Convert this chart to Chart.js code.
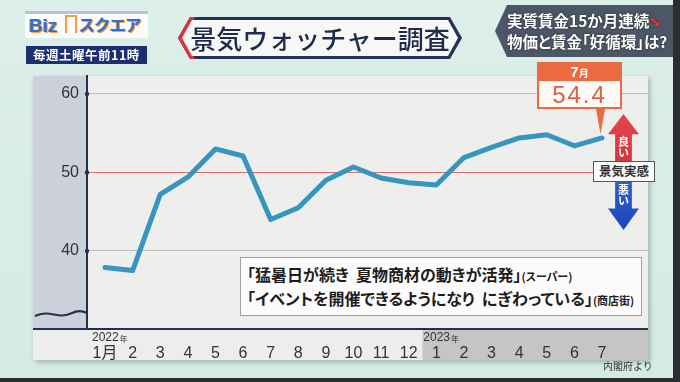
<!DOCTYPE html>
<html>
<head>
<meta charset="utf-8">
<script src="https://cdn.jsdelivr.net/npm/chart.js@4/dist/chart.umd.min.js"></script>
<style>
  html, body { margin: 0; padding: 0; }
  body {
    width: 680px; height: 382px; position: relative; overflow: hidden;
    background: linear-gradient(180deg, #dcefe8 0%, #d4ebe3 100%);
    font-family: 'Noto Sans CJK JP', sans-serif;
  }
  .abs { position: absolute; }
  #panel { left: 33px; top: 76px; width: 615px; height: 284px; background: #eeeeec; box-shadow: 2px 2px 5px rgba(0,0,0,0.25); }
  #wrap { left: 0; top: 0; width: 680px; height: 382px; }
  #logo { left: 25px; top: 11px; width: 123px; height: 27px; background: #fbfbfb; border-top: 3px solid #b9c3d6; box-sizing: border-box; }
  #logo span { position: absolute; top: 0px; font: bold 19px 'Liberation Sans', 'Noto Sans CJK JP', sans-serif; color: #2d6fd2; text-shadow: 1px 1px 0 #f0a040, -1px 0 0 #f0a040; line-height: 24px; white-space: nowrap; }
  #logo .sq { left: 54px; font-size: 16px; letter-spacing: -0.5px; }
  #logo .bldg { left: 40px; top: 1px; width: 12px; height: 18px; border: 2px solid #f0a040; border-bottom: none; box-sizing: border-box; }
  #sched { left: 26px; top: 46px; width: 121px; height: 18px; background: #1d2f6e; color: #fff; font-weight: bold; font-size: 12.5px; line-height: 18px; text-align: center; letter-spacing: 0.5px; }
  #titleOuter { left: 178px; top: 17px; width: 284px; height: 42px; background: #24335a;
    clip-path: polygon(12px 0, 272px 0, 284px 21px, 272px 42px, 12px 42px, 0 21px); }
  #titleRed { left: 178px; top: 17px; width: 284px; height: 42px; background: #d8343a;
    clip-path: polygon(12px 0, 17px 0, 5px 21px, 17px 42px, 12px 42px, 0 21px); }
  #titleInner { left: 182px; top: 20px; width: 276px; height: 36px; background: #f7f7f5;
    clip-path: polygon(10px 0, 266px 0, 276px 18px, 266px 36px, 10px 36px, 0 18px); }
  #titleText { left: 182px; top: 20px; width: 276px; height: 36px; line-height: 36px; text-align: center; font-size: 26px; color: #1f2b4a; font-weight: 500; }
  #news { left: 495px; top: 5px; width: 178px; height: 52px; background: #4b5666;
    clip-path: polygon(12px 0, 100% 0, 100% 100%, 12px 100%, 0 50%); }
  #news1, #news2 { left: 507px; color: #fff; font-weight: bold; font-size: 15.5px; white-space: nowrap; text-shadow: 0 0 2px #222; font-feature-settings: 'palt'; }
  #news1 { top: 9px; }
  #news2 { top: 30px; }
  #news1 .arr { color: #e0383c; font-size: 15px; }
  #edge { right: 0; top: 0; width: 7px; height: 382px; background: #2b2d30; }
  #bottomEdge { left: 0; bottom: 0; width: 680px; height: 4px; background: #2b2d30; }
  #mon { left: 537px; top: 62px; width: 85px; height: 19px; background: #ec6a41; color: #fff; text-align: center; font: bold 15px 'Liberation Sans', 'Noto Sans CJK JP', sans-serif; line-height: 19px; }
  #mon small { font-size: 10px; }
  #val { left: 537px; top: 81px; width: 85px; height: 28px; background: #fdfaf6; border: 2px solid #ec6a41; border-top: none; box-sizing: border-box; color: #d9614a; text-align: center; font: 24px 'Liberation Sans', sans-serif; line-height: 27px; letter-spacing: 2px; }
  #pointer { left: 596px; top: 109px; width: 9px; height: 25px; background: #ec6a41; clip-path: polygon(0 0, 100% 0, 50% 100%); }
  #upArrow { left: 608px; top: 114px; width: 31px; height: 48px; background: linear-gradient(180deg, #e4454e, #d8343d);
    clip-path: polygon(50% 0, 100% 42%, 77% 42%, 77% 100%, 23% 100%, 23% 42%, 0 42%); }
  #downArrow { left: 608px; top: 181px; width: 31px; height: 49px; background: linear-gradient(180deg, #2f5fd2, #1c45b5);
    clip-path: polygon(23% 0, 77% 0, 77% 56%, 100% 56%, 50% 100%, 0 56%, 23% 56%); }
  .vtxt { width: 31px; color: #fff; font-weight: bold; font-size: 11px; line-height: 11px; text-align: center; }
  #good { left: 608px; top: 136px; }
  #bad { left: 608px; top: 184px; }
  #feel { left: 593px; top: 161px; width: 62px; height: 21px; background: #fbfbfb; border: 1.5px solid #555; box-sizing: border-box; font-weight: bold; font-size: 12.5px; line-height: 18px; text-align: center; color: #333; }
  #quote { left: 240px; top: 257px; width: 402px; height: 59px; background: #fbfbfb; border: 1.5px solid #9aa0a8; box-sizing: border-box; padding: 5px 0 0 6px; color: #1d1d1d; font-weight: bold; font-size: 16px; line-height: 22px; font-feature-settings: 'palt'; white-space: nowrap; }
  #quote small { font-size: 11px; font-weight: bold; }
  #src { left: 603px; top: 358px; font-size: 10px; color: #333; }
</style>
</head>
<body>
<div id="panel" class="abs"></div>
<div id="wrap" class="abs"><canvas id="chart"></canvas></div>

<div id="logo" class="abs"><span style="left:4px">Biz</span><span class="bldg"></span><span class="sq">スクエア</span></div>
<div id="sched" class="abs">毎週土曜午前11時</div>

<div id="titleOuter" class="abs"></div>
<div id="titleRed" class="abs"></div>
<div id="titleInner" class="abs"></div>
<div id="titleText" class="abs">景気ウォッチャー調査</div>

<div id="news" class="abs"></div>
<div id="news1" class="abs">実質賃金15か月連続<span class="arr">➘</span></div>
<div id="news2" class="abs">物価と賃金「好循環」は?</div>

<div id="mon" class="abs">7<small>月</small></div>
<div id="val" class="abs">54.4</div>
<div id="pointer" class="abs"></div>

<div id="upArrow" class="abs"></div>
<div id="good" class="abs vtxt">良<br>い</div>
<div id="downArrow" class="abs"></div>
<div id="bad" class="abs vtxt">悪<br>い</div>
<div id="feel" class="abs">景気実感</div>

<div id="quote" class="abs">「猛暑日が続き&nbsp;&nbsp;夏物商材の動きが活発」<small>(スーパー)</small><br>「イベントを開催できるようになり&nbsp;&nbsp;にぎわっている」<small>(商店街)</small></div>
<div id="src" class="abs">内閣府より</div>

<div id="edge" class="abs"></div>
<div id="bottomEdge" class="abs"></div>

<script>
const months = ['1月', '2', '3', '4', '5', '6', '7', '8', '9', '10', '11', '12', '1', '2', '3', '4', '5', '6', '7'];
const diValues = [37.9, 37.5, 47.2, 49.4, 53.0, 52.1, 44.0, 45.5, 49.0, 50.7, 49.3, 48.7, 48.4, 51.9, 53.2, 54.4, 54.8, 53.4, 54.4];
const yTicks = [40, 50, 60];
const yearStarts = [0, 12];
const yearNames = ['2022', '2023'];

const AXIS_COLOR = '#27304a';

// backgrounds, x axis line, break mark, year labels
const decorPlugin = {
    id: 'decor',
    beforeDraw(chart) {
        const { ctx, chartArea: a, scales: { x } } = chart;
        const left = 33;
        ctx.save();
        ctx.fillStyle = '#eeeeec';
        ctx.fillRect(a.left, a.top, a.right - a.left, a.bottom - a.top);
        ctx.fillStyle = '#ccd0db';
        ctx.fillRect(left, a.top, a.left - left, a.bottom - a.top);
        // month band
        const split = x.getPixelForValue(yearStarts[1] - 0.5);
        ctx.fillStyle = '#ededed';
        ctx.fillRect(left, a.bottom, split - left, 31);
        ctx.fillStyle = '#c5c5c5';
        ctx.fillRect(split, a.bottom, a.right - split, 31);
        ctx.restore();
    },
    afterDraw(chart) {
        const { ctx, chartArea: a, scales: { x, y } } = chart;
        ctx.save();
        ctx.strokeStyle = AXIS_COLOR;
        ctx.lineWidth = 2;
        ctx.beginPath();
        ctx.moveTo(33, a.bottom);
        ctx.lineTo(a.right, a.bottom);
        ctx.stroke();
        // wavy break mark
        ctx.beginPath();
        ctx.moveTo(35, 316);
        ctx.bezierCurveTo(50, 309, 58, 320, 72, 313);
        ctx.bezierCurveTo(78, 310, 83, 311, a.left, 313);
        ctx.stroke();
        // dots on y axis
        ctx.fillStyle = AXIS_COLOR;
        yTicks.forEach(v => {
            ctx.beginPath();
            ctx.arc(a.left, y.getPixelForValue(v), 2.2, 0, Math.PI * 2);
            ctx.fill();
        });
        // year labels
        ctx.fillStyle = '#333';
        ctx.textBaseline = 'middle';
        yearStarts.forEach((idx, k) => {
            const px = x.getPixelForValue(idx) - 13;
            ctx.font = '12px "Liberation Sans", sans-serif';
            ctx.fillText(yearNames[k], px, 338);
            const w = ctx.measureText(yearNames[k]).width;
            ctx.font = '8px "Noto Sans CJK JP", sans-serif';
            ctx.fillText('年', px + w + 1, 339);
        });
        ctx.restore();
    }
};

const chart = new Chart(document.getElementById('chart'), {
    type: 'line',
    data: {
        datasets: [{
            data: diValues.map((v, i) => ({ x: i, y: v })),
            borderColor: '#3796bd',
            borderWidth: 5,
            pointRadius: 0,
            tension: 0,
            borderJoinStyle: 'round',
            borderCapStyle: 'round'
        }]
    },
    options: {
        responsive: true,
        maintainAspectRatio: false,
        animation: false,
        layout: { padding: { left: 33, right: 32, top: 76, bottom: 0 } },
        plugins: { legend: { display: false }, tooltip: { enabled: false } },
        scales: {
            x: {
                type: 'linear',
                min: -0.652,
                max: 19.666,
                afterFit: s => { s.height = 53; },
                afterBuildTicks: s => { s.ticks = months.map((_, i) => ({ value: i })); },
                grid: { display: false },
                border: { display: false },
                ticks: {
                    callback: (v, i) => months[i],
                    color: '#333',
                    padding: 7,
                    maxRotation: 0,
                    autoSkip: false,
                    font: { family: '"Liberation Sans", "Noto Sans CJK JP", sans-serif', size: 16 }
                }
            },
            y: {
                min: 30.06,
                max: 62.29,
                afterFit: s => { s.width = 54; },
                afterBuildTicks: s => { s.ticks = yTicks.map(v => ({ value: v })); },
                grid: {
                    drawTicks: false,
                    color: c => (c.tick && c.tick.value === 50 ? '#d76d6d' : '#bdbdbd'),
                    lineWidth: 1
                },
                border: { color: AXIS_COLOR, width: 2 },
                ticks: {
                    color: '#333',
                    padding: 8,
                    font: { family: '"Liberation Sans", sans-serif', size: 16 }
                }
            }
        }
    },
    plugins: [decorPlugin]
});
</script>
</body>
</html>
